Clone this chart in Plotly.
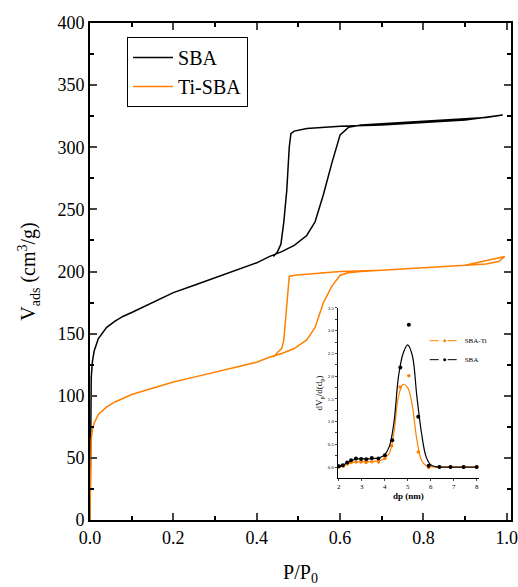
import plotly.graph_objects as go

# ---- main isotherms ----
sba_p = [0, 0.001, 0.003, 0.006, 0.01, 0.02, 0.04, 0.06, 0.08, 0.1, 0.15, 0.2, 0.25, 0.3, 0.35, 0.4, 0.43, 0.46,
         0.49, 0.52, 0.54, 0.56, 0.58, 0.6, 0.62, 0.65, 0.7, 0.8, 0.9, 0.95, 0.99,
         0.9, 0.8, 0.7, 0.6, 0.52, 0.49, 0.482, 0.478, 0.472, 0.465, 0.458, 0.45, 0.44]
sba_v = [0, 90, 115, 128, 136, 146, 155, 160, 164, 167, 175, 183, 189, 195, 201, 207, 212, 216,
         221, 229, 240, 262, 287, 310, 316, 318, 319, 321, 323, 324, 326,
         322, 320, 318, 317, 315, 313, 311, 300, 265, 240, 222, 216, 212]

ti_p = [0, 0.001, 0.003, 0.006, 0.01, 0.02, 0.04, 0.06, 0.08, 0.1, 0.15, 0.2, 0.25, 0.3, 0.35, 0.4, 0.43, 0.46,
        0.49, 0.52, 0.54, 0.56, 0.58, 0.6, 0.62, 0.65, 0.7, 0.8, 0.9, 0.95, 0.98, 0.995,
        0.9, 0.8, 0.7, 0.6, 0.52, 0.49, 0.478, 0.474, 0.47, 0.465, 0.46, 0.45, 0.44]
ti_v = [0, 50, 65, 73, 78, 85, 91, 95, 98, 101, 106, 111, 115, 119, 123, 127, 131, 134,
        138, 145, 155, 175, 188, 197, 199, 200, 201, 203, 205, 206, 208, 212,
        205, 203, 201, 200, 198, 197, 196, 180, 160, 145, 138, 135, 131]

# ---- inset: pore size distribution ----
sba_dp_pts = [2.01, 2.18, 2.37, 2.54, 2.75, 2.98, 3.2, 3.44, 3.73, 4.01, 4.33, 4.68, 5.05, 5.46, 5.91, 6.38, 6.86, 7.43, 8.0]
sba_dv_pts = [0.02, 0.04, 0.1, 0.15, 0.19, 0.18, 0.17, 0.2, 0.19, 0.26, 0.59, 2.19, 3.13, 1.11, 0.03, 0.0, 0.0, 0.0, 0.0]
ti_dp_pts = [2.0, 2.2, 2.38, 2.54, 2.76, 2.97, 3.19, 3.44, 3.73, 4.01, 4.3, 4.67, 5.05, 5.46, 5.91, 6.38, 6.86, 7.43, 8.0]
ti_dv_pts = [0.0, 0.02, 0.07, 0.1, 0.11, 0.11, 0.1, 0.12, 0.11, 0.19, 0.47, 1.76, 2.01, 0.33, -0.01, 0.0, 0.0, 0.0, 0.0]

fit_dp = [2.0, 2.2, 2.4, 2.6, 2.8, 3.0, 3.2, 3.4, 3.6, 3.8, 4.0, 4.2, 4.4, 4.6, 4.8, 5.0, 5.2, 5.4, 5.6, 5.8, 6.0, 6.2, 6.5, 7.0, 7.5, 8.0]
sba_fit = [0.02, 0.05, 0.1, 0.15, 0.18, 0.18, 0.18, 0.18, 0.19, 0.21, 0.27, 0.45, 0.97, 1.99, 2.5, 2.69, 2.46, 1.55, 0.75, 0.23, 0.05, 0.01, 0, 0, 0, 0]
ti_fit = [0.0, 0.03, 0.07, 0.1, 0.12, 0.12, 0.12, 0.12, 0.13, 0.14, 0.2, 0.3, 0.75, 1.55, 1.82, 1.75, 1.35, 0.6, 0.15, 0.03, 0.01, 0, 0, 0, 0, 0]

ORANGE = "#FF8000"
SERIF = "Liberation Serif, Times New Roman, Times, serif"

fig = go.Figure()
fig.add_trace(go.Scatter(x=sba_p, y=sba_v, mode="lines", name="SBA",
                         line=dict(color="black", width=1.5), legend="legend"))
fig.add_trace(go.Scatter(x=ti_p, y=ti_v, mode="lines", name="Ti-SBA",
                         line=dict(color=ORANGE, width=1.5), legend="legend"))

# inset
fig.add_trace(go.Scatter(x=ti_dp_pts, y=ti_dv_pts, mode="markers", name="SBA-Ti", xaxis="x2", yaxis="y2",
                         marker=dict(color=ORANGE, size=3.5), showlegend=False))
fig.add_trace(go.Scatter(x=fit_dp, y=ti_fit, mode="lines", line=dict(color=ORANGE, width=1.2, shape="spline"),
                         xaxis="x2", yaxis="y2", showlegend=False))
fig.add_trace(go.Scatter(x=sba_dp_pts, y=sba_dv_pts, mode="markers", name="SBA", xaxis="x2", yaxis="y2",
                         marker=dict(color="black", size=4), showlegend=False))
fig.add_trace(go.Scatter(x=fit_dp, y=sba_fit, mode="lines", line=dict(color="black", width=1.2, shape="spline"),
                         xaxis="x2", yaxis="y2", showlegend=False))
# inset legend entries
fig.add_trace(go.Scatter(x=[None], y=[None], mode="lines+markers", name="SBA-Ti", xaxis="x2", yaxis="y2",
                         line=dict(color=ORANGE, width=1, dash="dash"), marker=dict(color=ORANGE, size=3),
                         legend="legend2"))
fig.add_trace(go.Scatter(x=[None], y=[None], mode="lines+markers", name="SBA", xaxis="x2", yaxis="y2",
                         line=dict(color="black", width=1, dash="dash"), marker=dict(color="black", size=3),
                         legend="legend2"))

fig.update_layout(
    width=518, height=587,
    margin=dict(l=90, r=7, t=23, b=67, autoexpand=False),
    paper_bgcolor="white", plot_bgcolor="white",
    font=dict(family=SERIF, color="black"),
    xaxis=dict(range=[0, 1.01], tickvals=[0, 0.2, 0.4, 0.6, 0.8, 1.0], tickformat=".1f", automargin=False,
               ticklabeloverflow="allow",
               ticks="inside", ticklen=7, tickwidth=1.5, showgrid=False, zeroline=False,
               showline=True, linecolor="black", linewidth=2, mirror="allticks",
               minor=dict(ticks="inside", ticklen=4, dtick=0.1, tick0=0, tickcolor="black"),
               tickfont=dict(size=18, family=SERIF),
               title=dict(text="P/P<sub>0</sub>", font=dict(size=20, family=SERIF), standoff=18)),
    yaxis=dict(range=[0, 400], dtick=50, ticks="inside", ticklen=7, tickwidth=1.5, showgrid=False, zeroline=False,
               showline=True, linecolor="black", linewidth=2, mirror="allticks", automargin=False,
               ticklabeloverflow="allow",
               minor=dict(ticks="inside", ticklen=4, dtick=25, tick0=0, tickcolor="black"),
               tickfont=dict(size=18, family=SERIF),
               title=dict(text="V<sub>ads</sub> (cm<sup>3</sup>/g)", font=dict(size=20, family=SERIF), standoff=16)),
    xaxis2=dict(domain=[0.589, 0.924], anchor="y2", range=[1.97, 8.1], dtick=1, automargin=False,
                ticks="outside", ticklen=2, showgrid=False, zeroline=False,
                showline=True, linecolor="black", linewidth=1,
                tickfont=dict(size=7, family=SERIF),
                title=dict(text="<b>dp (nm)</b>", font=dict(size=9, family=SERIF), standoff=2)),
    yaxis2=dict(domain=[0.0845, 0.4266], anchor="x2", range=[-0.24, 3.5], tickvals=[0, 0.5, 1, 1.5, 2, 2.5, 3, 3.5],
                tickformat=".1f", ticks="outside", ticklen=2, showgrid=False, zeroline=False, automargin=False,
                showline=True, linecolor="black", linewidth=1,
                minor=dict(ticks="outside", ticklen=1.5, dtick=0.25, tick0=0),
                tickfont=dict(size=5, family=SERIF),
                title=dict(text="dV<sub>p</sub>/d(d<sub>p</sub>)", font=dict(size=9, family=SERIF), standoff=3)),
    legend=dict(x=0.088, y=0.972, xanchor="left", yanchor="top", bordercolor="black", borderwidth=1,
                bgcolor="white", font=dict(size=20, family=SERIF), itemwidth=40, tracegroupgap=0),
    legend2=dict(x=0.795, y=0.39, xanchor="left", yanchor="top", bgcolor="rgba(0,0,0,0)",
                 font=dict(size=7, family=SERIF), itemwidth=30, tracegroupgap=0),
    showlegend=True,
)

fig.write_html("out.html", config={"displayModeBar": False},
               post_script="document.body.style.margin='0px';document.body.style.overflow='hidden';")
